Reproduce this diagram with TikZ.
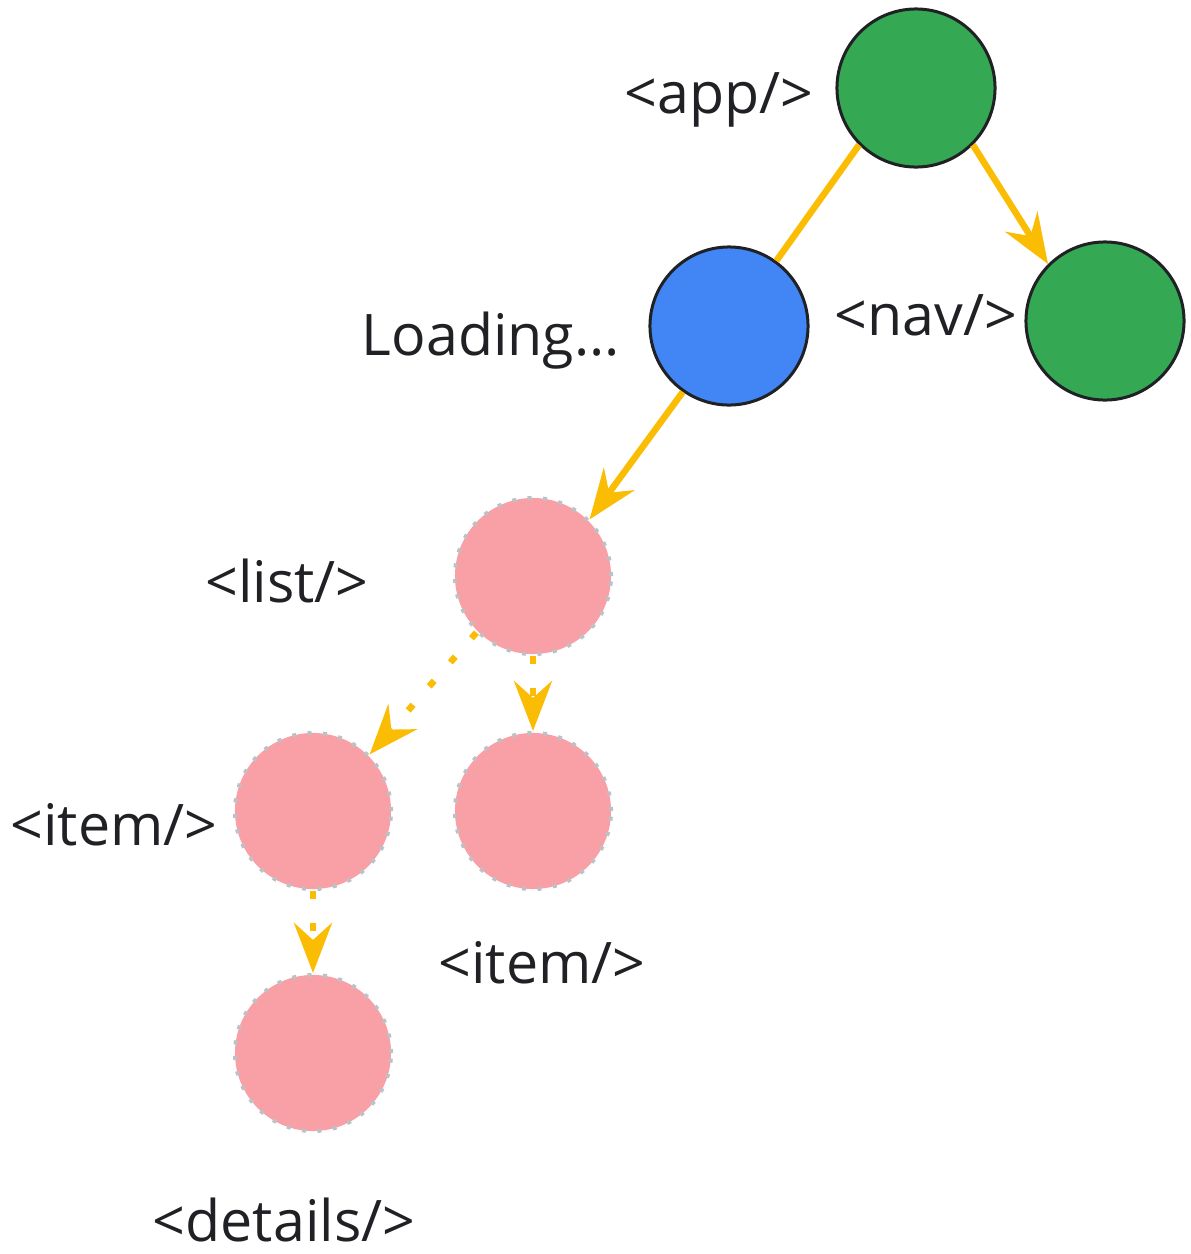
\documentclass[tikz,border=0pt]{standalone}
\usepackage{fontspec}
\setmainfont{Open Sans}
\usetikzlibrary{arrows.meta, positioning}
\definecolor{appgreen}{HTML}{34A853}
\definecolor{loadblue}{HTML}{4285F4}
\definecolor{lazypink}{HTML}{F8A0A6}
\definecolor{dotgray}{HTML}{BDC1C6}
\definecolor{linkyellow}{HTML}{FBBC04}
\definecolor{inkdark}{HTML}{202124}

\begin{document}
\begin{tikzpicture}[x=0.01cm, y=-0.01cm,
    comp/.style={circle, draw=inkdark, line width=0.03cm, minimum size=1.58cm, inner sep=0pt},
    lazy/.style={circle, fill=lazypink, draw=dotgray, line width=0.04cm,
        dash pattern=on 0.04cm off 0.115cm, minimum size=1.56cm, inner sep=0pt},
    tag/.style={anchor=base, text=inkdark, inner sep=0pt, font=\fontsize{16.3}{20}\selectfont},
    link/.style={draw=linkyellow, line width=0.065cm},
    headed/.style={-{Stealth[length=0.5cm, width=0.38cm, inset=0.17cm]}},
    lazylink/.style={link, headed, dash pattern=on 0.075cm off 0.245cm}
]
    \useasboundingbox (0,0) rectangle (1191,1254);

    % components
    \node[comp, fill=appgreen] (app) at (916,88) {};
    \node[comp, fill=loadblue] (load) at (729,326) {};
    \node[comp, fill=appgreen] (nav) at (1105,321) {};
    \node[lazy] (list) at (533,576) {};
    \node[lazy] (item1) at (313,811) {};
    \node[lazy] (item2) at (533,811) {};
    \node[lazy] (details) at (313,1053) {};

    % labels
    \node[tag] (applbl) at (719,113) {<app/>};
    \node[tag] (loadlbl) at (491,355) {Loading...};
    \node[tag] (navlbl) at (926,335) {<nav/>};
    \node[tag] (listlbl) at (287,602) {<list/>};
    \node[tag] (item1lbl) at (114,845) {<item/>};
    \node[tag] (item2lbl) at (542,983) {<item/>};
    \node[tag] (detailslbl) at (284,1241) {<details/>};

    \path
    (app.-135) edge [link] (load.54)
    (app.-45) edge [link, headed] (nav.135)
    (load.-125) edge [link, headed] (list.45)
    (list.-135) edge [lazylink] (item1.45)
    (list.south) edge [lazylink] (item2.north)
    (item1.south) edge [lazylink] (details.north)
    ;
\end{tikzpicture}
\end{document}
